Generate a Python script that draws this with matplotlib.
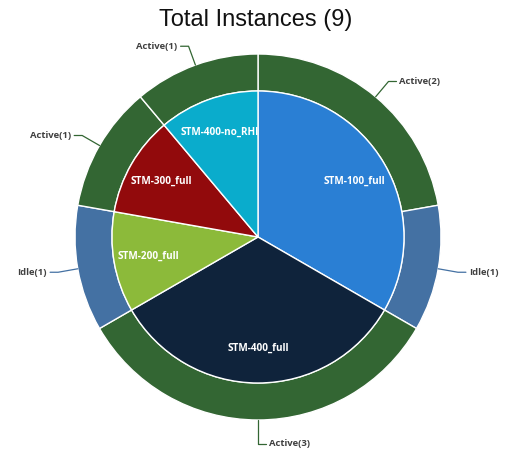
import numpy as np
import matplotlib
matplotlib.use("Agg")
import matplotlib.pyplot as plt

title = "Total Instances (9)"
inner_labels = ["STM-100_full", "STM-400_full", "STM-200_full", "STM-300_full", "STM-400-no_RHI"]
inner_values = [3, 3, 1, 1, 1]
inner_colors = ["#2a7fd4", "#0f233b", "#8cba3a", "#920a0c", "#0aaccc"]

outer_labels = ["Active(2)", "Idle(1)", "Active(3)", "Idle(1)", "Active(1)", "Active(1)"]
outer_values = [2, 1, 3, 1, 1, 1]
outer_states = ["Active", "Idle", "Active", "Idle", "Active", "Active"]
state_colors = {"Active": "#336633", "Idle": "#4471a3"}

W, H = 511, 450
fig = plt.figure(figsize=(W / 100, H / 100), dpi=100)
ax = fig.add_axes([0, 0, 1, 1])
ax.set_xlim(0, W)
ax.set_ylim(0, H)
ax.set_aspect("equal")
ax.axis("off")

cx, cy = 258, H - 237
R_out, R_in = 183, 146

ax.pie(outer_values, radius=R_out, center=(cx, cy), startangle=90, counterclock=False,
       colors=[state_colors[s] for s in outer_states],
       wedgeprops=dict(width=R_out - R_in, edgecolor="white", linewidth=1.0),
       frame=True)
ax.pie(inner_values, radius=R_in, center=(cx, cy), startangle=90, counterclock=False,
       colors=inner_colors, labels=inner_labels, labeldistance=0.765,
       textprops=dict(color="white", fontsize=7.2, fontweight="bold", family="Open Sans",
                      ha="center", va="center"),
       wedgeprops=dict(edgecolor="white", linewidth=1.0), frame=True)
ax.set_xlim(0, W)
ax.set_ylim(0, H)
ax.axis("off")

# outer labels with connectors
total = sum(outer_values)
cum = 0
for lab, v, st in zip(outer_labels, outer_values, outer_states):
    mid = (cum + v / 2) / total * 360.0
    cum += v
    th = np.deg2rad(mid)
    sx, sy = np.sin(th), np.cos(th)
    ext = 20 if abs(sx) > 0.05 else 24
    x1, y1 = cx + R_out * sx, cy + R_out * sy
    x2, y2 = cx + (R_out + ext) * sx, cy + (R_out + ext) * sy
    side = 1 if sx > 0.05 else (-1 if sx < -0.05 else 1)
    x3 = x2 + side * 8
    ax.plot([x1, x2, x3], [y1, y2, y2], color=state_colors[st], lw=0.9, solid_capstyle="round")
    ax.text(x3 + side * 3, y2, lab, ha="left" if side > 0 else "right", va="center",
            fontsize=6.8, fontweight="bold", color="#404040", family="Open Sans")

fig.text(0.5, 1 - 20 / H, title, ha="center", va="center", fontsize=17,
         family="Liberation Sans", color="#111111")

fig.savefig("out.png", dpi=100, facecolor="white")
